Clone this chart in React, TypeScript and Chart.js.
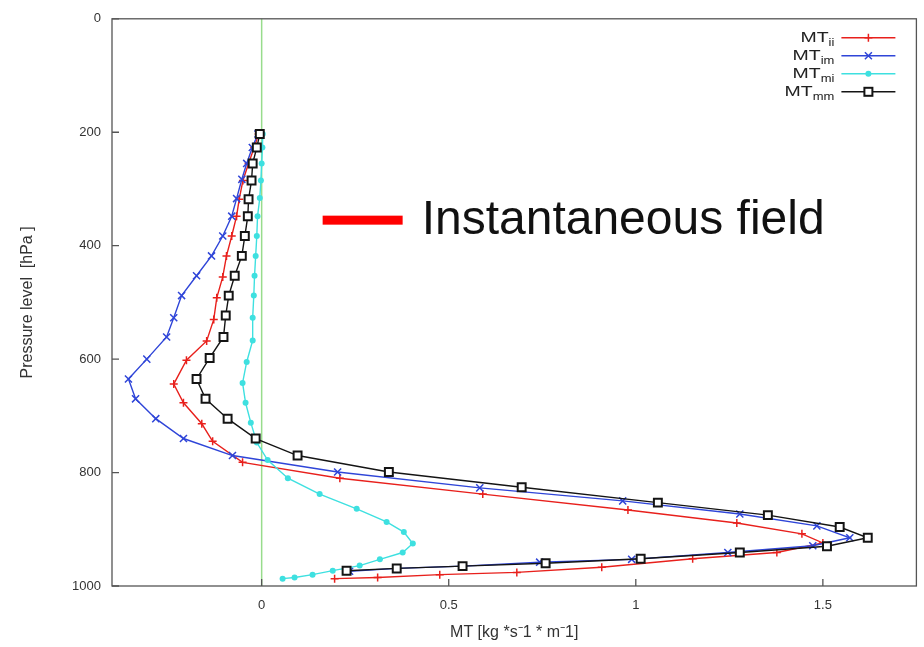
import React, { useEffect, useRef } from 'react';
import { Chart, registerables } from 'chart.js';

Chart.register(...registerables);

// ---- data ----
const xTickValues = [0, 0.5, 1, 1.5];
const yTickValues = [0, 200, 400, 600, 800, 1000];
const xTitle = 'MT [kg *s\u207B1 * m\u207B1]';
const yTitle = 'Pressure level  [hPa ]';
const annotationText = 'Instantaneous field';
const legendMain = 'MT';
const seriesSubs = ['ii', 'im', 'mi', 'mm'];

const mtIiP = [203, 227, 255, 285, 318, 348, 383, 418, 455, 492, 530, 568, 602, 644, 677, 714, 745, 782, 810, 838, 866, 889, 908, 924, 941, 952, 967, 976, 980, 985, 987];
const mtIiX = [-0.008, -0.02, -0.035, -0.05, -0.06, -0.067, -0.08, -0.094, -0.104, -0.12, -0.128, -0.147, -0.201, -0.235, -0.209, -0.16, -0.131, -0.051, 0.209, 0.591, 0.979, 1.27, 1.444, 1.5, 1.377, 1.152, 0.909, 0.682, 0.476, 0.31, 0.195];

const mtImP = [203, 227, 255, 283, 317, 348, 383, 418, 453, 488, 527, 561, 600, 635, 670, 705, 740, 770, 799, 827, 850, 873, 894, 915, 929, 941, 953, 958, 965, 969, 974];
const mtImX = [-0.01, -0.025, -0.04, -0.053, -0.067, -0.08, -0.104, -0.134, -0.174, -0.214, -0.235, -0.254, -0.307, -0.356, -0.337, -0.283, -0.209, -0.078, 0.203, 0.583, 0.965, 1.278, 1.484, 1.572, 1.473, 1.246, 0.989, 0.743, 0.537, 0.361, 0.235];

const mtMiP = [203, 227, 255, 285, 316, 348, 383, 418, 453, 488, 527, 567, 605, 642, 677, 712, 747, 778, 810, 838, 864, 887, 905, 925, 941, 953, 964, 973, 980, 985, 987];
const mtMiX = [0.003, 0.002, 0.0, -0.002, -0.005, -0.011, -0.013, -0.016, -0.019, -0.021, -0.024, -0.024, -0.04, -0.051, -0.043, -0.029, -0.013, 0.016, 0.07, 0.155, 0.254, 0.334, 0.38, 0.404, 0.377, 0.316, 0.262, 0.19, 0.136, 0.088, 0.056];

const mtMmP = [203, 227, 255, 285, 318, 348, 383, 418, 453, 488, 523, 561, 598, 635, 670, 705, 740, 770, 799, 826, 853, 875, 896, 915, 930, 941, 952, 960, 965, 969, 973];
const mtMmX = [-0.005, -0.013, -0.024, -0.027, -0.035, -0.037, -0.045, -0.053, -0.072, -0.088, -0.096, -0.102, -0.139, -0.174, -0.15, -0.091, -0.016, 0.096, 0.34, 0.695, 1.059, 1.353, 1.545, 1.62, 1.511, 1.278, 1.013, 0.759, 0.537, 0.361, 0.227];

// annotation anchor in data coordinates
const annotationAnchorX = 0.163;
const annotationAnchorP = 355;

const FONT = '"Liberation Sans", Arial, Helvetica, sans-serif';

const toPoints = (xs: number[], ps: number[]) => xs.map((x, i) => ({ x, y: ps[i] }));

function drawMarker(ctx: CanvasRenderingContext2D, style: string, x: number, y: number, color: string) {
  ctx.save();
  ctx.strokeStyle = color;
  ctx.fillStyle = color;
  if (style === 'cross') {
    ctx.lineWidth = 1.5;
    ctx.beginPath();
    ctx.moveTo(x - 4, y); ctx.lineTo(x + 4, y);
    ctx.moveTo(x, y - 4); ctx.lineTo(x, y + 4);
    ctx.stroke();
  } else if (style === 'crossRot') {
    ctx.lineWidth = 1.5;
    ctx.beginPath();
    ctx.moveTo(x - 3.5, y - 3.5); ctx.lineTo(x + 3.5, y + 3.5);
    ctx.moveTo(x - 3.5, y + 3.5); ctx.lineTo(x + 3.5, y - 3.5);
    ctx.stroke();
  } else if (style === 'circle') {
    ctx.beginPath();
    ctx.arc(x, y, 3, 0, Math.PI * 2);
    ctx.fill();
  } else {
    ctx.lineWidth = 2;
    ctx.fillStyle = '#ffffff';
    ctx.fillRect(x - 4, y - 4, 8, 8);
    ctx.strokeRect(x - 4, y - 4, 8, 8);
  }
  ctx.restore();
}

const decorPlugin = {
  id: 'decor',
  beforeDatasetsDraw(chart: any) {
    const { ctx, chartArea: a, scales } = chart;
    const x0 = scales.x.getPixelForValue(0);
    ctx.save();
    ctx.strokeStyle = '#98dc8c';
    ctx.lineWidth = 1.5;
    ctx.beginPath();
    ctx.moveTo(x0, a.top);
    ctx.lineTo(x0, a.bottom);
    ctx.stroke();
    ctx.restore();
  },
  afterDraw(chart: any) {
    const { ctx, chartArea: a, scales } = chart;
    ctx.save();
    // frame
    ctx.strokeStyle = '#555555';
    ctx.lineWidth = 1.3;
    ctx.strokeRect(a.left, a.top, a.right - a.left, a.bottom - a.top);
    // inward tick marks
    ctx.beginPath();
    yTickValues.forEach((v) => {
      const py = scales.y.getPixelForValue(v);
      ctx.moveTo(a.left, py); ctx.lineTo(a.left + 7, py);
    });
    xTickValues.forEach((v) => {
      const px = scales.x.getPixelForValue(v);
      ctx.moveTo(px, a.bottom); ctx.lineTo(px, a.bottom - 7);
    });
    ctx.stroke();

    // legend (gnuplot style: text right-aligned, sample on the right)
    chart.data.datasets.forEach((d: any, i: number) => {
      const yy = a.top + 19 + 18 * i;
      const textRight = a.right - 82;
      const sub = seriesSubs[i];
      ctx.save();
      ctx.translate(textRight, yy);
      ctx.scale(1.3, 1);
      ctx.fillStyle = '#222222';
      ctx.textBaseline = 'alphabetic';
      ctx.textAlign = 'left';
      ctx.font = `15px ${FONT}`;
      const wMain = ctx.measureText(legendMain).width;
      ctx.font = `10px ${FONT}`;
      const wSub = ctx.measureText(sub).width;
      ctx.font = `15px ${FONT}`;
      ctx.fillText(legendMain, -(wMain + wSub), 4);
      ctx.font = `10px ${FONT}`;
      ctx.fillText(sub, -wSub, 8);
      ctx.restore();

      ctx.strokeStyle = d.borderColor;
      ctx.lineWidth = 1.5;
      ctx.beginPath();
      ctx.moveTo(a.right - 75, yy);
      ctx.lineTo(a.right - 21, yy);
      ctx.stroke();
      drawMarker(ctx, d.pointStyle, a.right - 48, yy, d.borderColor);
    });

    // annotation
    const ax = scales.x.getPixelForValue(annotationAnchorX);
    const ay = scales.y.getPixelForValue(annotationAnchorP);
    ctx.fillStyle = '#ff0000';
    ctx.fillRect(ax, ay - 4.5, 80, 9);
    ctx.fillStyle = '#111111';
    ctx.font = `48px ${FONT}`;
    ctx.textAlign = 'left';
    ctx.textBaseline = 'alphabetic';
    ctx.fillText(annotationText, ax + 99, ay + 14);
    ctx.restore();
  },
};

export default function App() {
  const canvasRef = useRef<HTMLCanvasElement | null>(null);

  useEffect(() => {
    const canvas = canvasRef.current;
    if (!canvas) return;
    const tickFont = { family: FONT, size: 13 };
    const chart = new Chart(canvas, {
      type: 'scatter',
      data: {
        datasets: [
          {
            label: legendMain + seriesSubs[0],
            data: toPoints(mtIiX, mtIiP),
            showLine: true,
            borderColor: '#e8201c',
            backgroundColor: '#e8201c',
            borderWidth: 1.4,
            pointStyle: 'cross',
            pointRadius: 4,
            pointBorderWidth: 1.5,
            order: 3,
          },
          {
            label: legendMain + seriesSubs[1],
            data: toPoints(mtImX, mtImP),
            showLine: true,
            borderColor: '#2f45d8',
            backgroundColor: '#2f45d8',
            borderWidth: 1.4,
            pointStyle: 'crossRot',
            pointRadius: 5,
            pointBorderWidth: 1.5,
            order: 2,
          },
          {
            label: legendMain + seriesSubs[2],
            data: toPoints(mtMiX, mtMiP),
            showLine: true,
            borderColor: '#3ee0e0',
            backgroundColor: '#3ee0e0',
            borderWidth: 1.4,
            pointStyle: 'circle',
            pointRadius: 3,
            pointBorderWidth: 0,
            order: 1,
          },
          {
            label: legendMain + seriesSubs[3],
            data: toPoints(mtMmX, mtMmP),
            showLine: true,
            borderColor: '#141414',
            backgroundColor: '#ffffff',
            borderWidth: 1.4,
            pointStyle: 'rect',
            pointRadius: 5.6,
            pointBorderWidth: 2,
            order: 0,
          },
        ],
      } as any,
      options: {
        responsive: false,
        maintainAspectRatio: false,
        animation: false,
        layout: { padding: { left: 0, right: 6, top: 14, bottom: 0 } },
        plugins: {
          legend: { display: false },
          tooltip: { enabled: false },
        },
        scales: {
          x: {
            type: 'linear',
            min: -0.4,
            max: 1.75,
            afterBuildTicks: (s: any) => {
              s.ticks = xTickValues.map((v) => ({ value: v }));
            },
            afterFit: (s: any) => {
              s.height = 61;
            },
            grid: { display: false, drawTicks: false },
            border: { display: false },
            ticks: {
              padding: 12,
              color: '#333333',
              font: tickFont,
              maxRotation: 0,
              autoSkip: false,
              callback: (v: any) => String(v),
            },
            title: {
              display: true,
              text: xTitle,
              color: '#333333',
              font: { family: FONT, size: 16 },
              padding: { top: 0, bottom: 5 },
            },
          },
          y: {
            type: 'linear',
            reverse: true,
            min: 0,
            max: 1000,
            afterBuildTicks: (s: any) => {
              s.ticks = yTickValues.map((v) => ({ value: v }));
            },
            afterFit: (s: any) => {
              s.width = 112;
            },
            grid: { display: false, drawTicks: false },
            border: { display: false },
            ticks: {
              padding: 11,
              color: '#333333',
              font: tickFont,
              autoSkip: false,
              callback: (v: any) => String(v),
            },
            title: {
              display: true,
              text: yTitle,
              color: '#333333',
              font: { family: FONT, size: 16 },
              padding: { top: 18, bottom: 0 },
            },
          },
        },
      } as any,
      plugins: [decorPlugin],
    });
    return () => chart.destroy();
  }, []);

  return (
    <div style={{ position: 'fixed', left: 0, top: 0, width: 924, height: 647, background: '#ffffff' }}>
      <canvas ref={canvasRef} width={924} height={647} style={{ width: 924, height: 647, display: 'block' }} />
    </div>
  );
}
